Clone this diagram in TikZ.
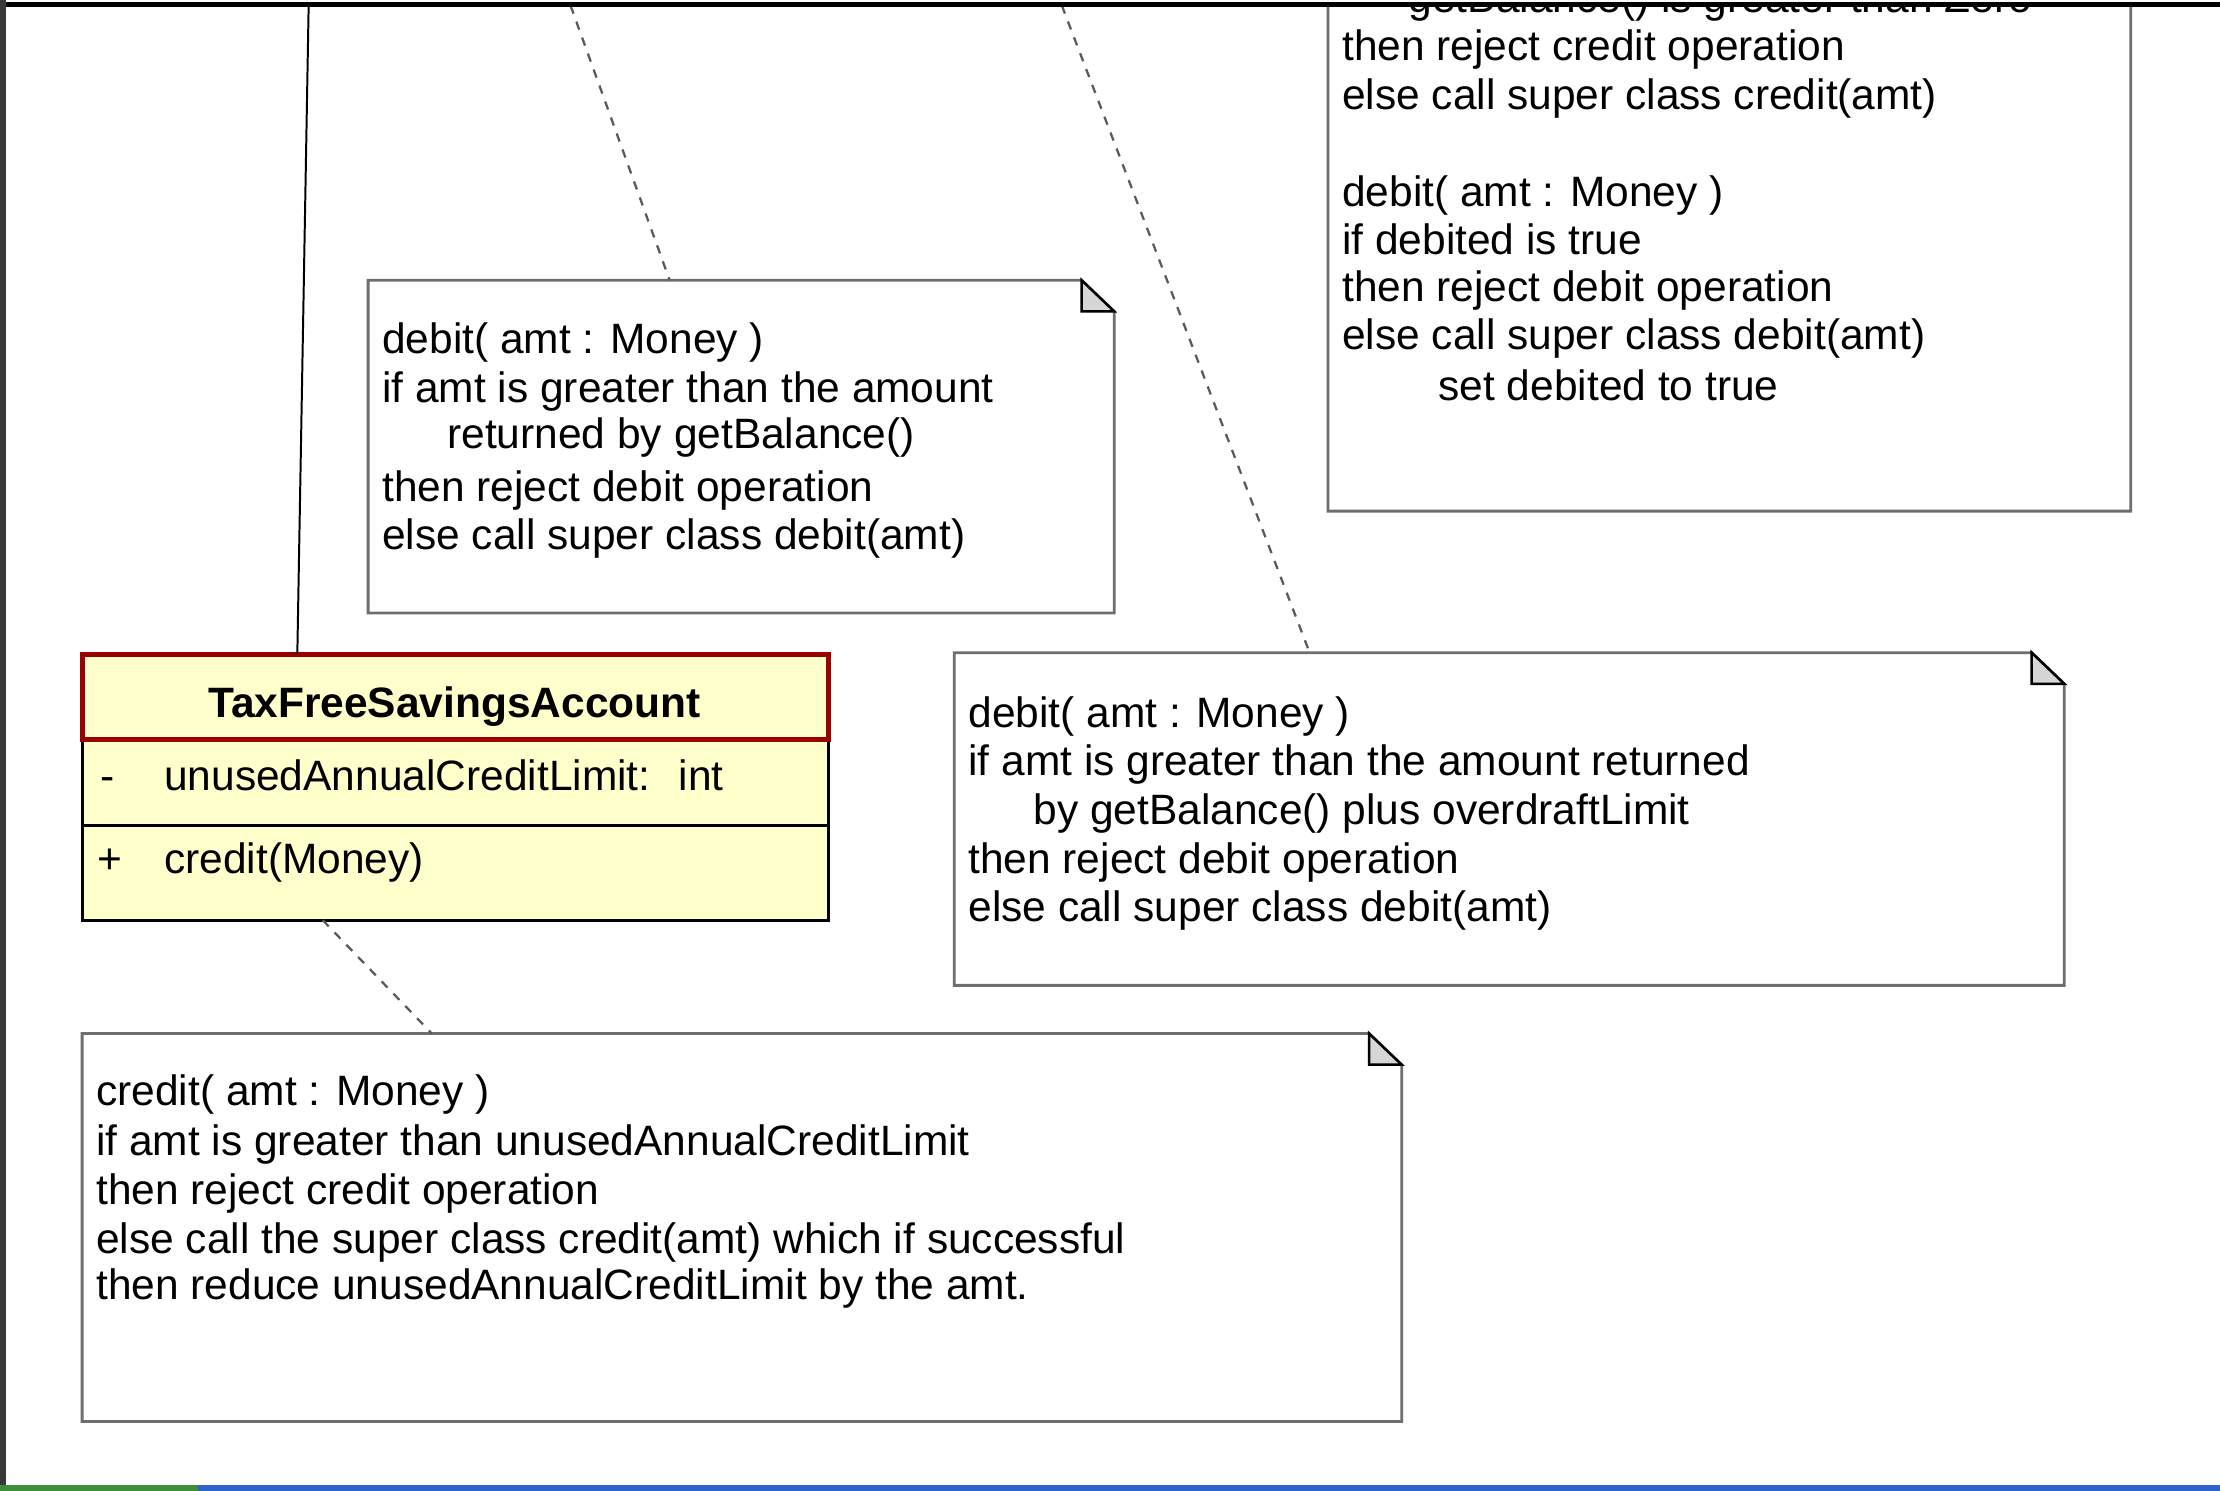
\documentclass[tikz,border=0pt]{standalone}
\usepackage{fontspec}
\setmainfont{Liberation Sans}
\usetikzlibrary{calc,fit}
\definecolor{classfill}{HTML}{FFFFCC}
\definecolor{classred}{HTML}{990000}
\definecolor{notegray}{HTML}{6E6E6E}
\definecolor{foldgray}{HTML}{D6D6D6}
\definecolor{dashgray}{HTML}{5A5A5A}
\definecolor{framegray}{HTML}{383838}
\definecolor{barblue}{HTML}{2D64CC}
\definecolor{bargreen}{HTML}{3E8E3A}
\tikzset{
  txt/.style={inner sep=0pt, outer sep=0pt, anchor=base west, font=\fontsize{15}{17}\selectfont},
  ttl/.style={inner sep=0pt, outer sep=0pt, anchor=base, font=\bfseries\fontsize{15}{17}\selectfont},
  notebox/.style={inner sep=0pt, outer sep=0pt},
  noteline/.style={draw=notegray, line width=1pt, fill=white, line join=miter},
  foldline/.style={draw=black, line width=0.9pt, fill=foldgray, line join=miter},
  anchorline/.style={draw=dashgray, line width=0.8pt, dash pattern=on 3pt off 3pt},
  genline/.style={draw=black, line width=0.7pt},
  classbody/.style={inner sep=0pt, outer sep=0pt, draw=black, line width=1pt, fill=classfill},
  classhead/.style={inner sep=0pt, outer sep=0pt, draw=classred, line width=1.8pt, fill=classfill},
}
\newcommand{\umlnote}[5]{%
  \node[notebox, fit={(#2,#3) (#4,#5)}] (#1) {};
  \path[noteline] (#1.north west) -- ([xshift=-11.5pt]#1.north east) -- ([yshift=-11pt]#1.north east) -- (#1.south east) -- (#1.south west) -- cycle;
  \path[foldline] ([xshift=-11.5pt]#1.north east) -- ([xshift=-11.5pt,yshift=-11pt]#1.north east) -- ([yshift=-11pt]#1.north east) -- cycle;
}
\begin{document}
\begin{tikzpicture}[x=0.5pt,y=-0.5pt]
\useasboundingbox (0,0) rectangle (1568,1053.1);
\fill[white] (0,0) rectangle (1568,1053.1);

\coordinate (genTop) at (218,4);
\coordinate (aTop1) at (403,4);
\coordinate (aTop2) at (750,4);

% class box
\node[classbody, fit={(58,462) (585,650)}] (cls) {};
\coordinate (divL) at (58,583);
\coordinate (divR) at (585,583);
\draw[black, line width=1pt] (divL) -- (divR);
\node[classhead, fit={(58,462) (585,522)}] (clsHead) {};
\node[ttl] (clsName) at (321,507) {TaxFreeSavingsAccount};
\node[txt] (attrVis) at (71,558) {-};
\node[txt] (attr) at (116,558) {unusedAnnualCreditLimit:\hspace{10pt}int};
\node[txt] (opVis) at (69,617) {+};
\node[txt] (op) at (116,617) {credit(Money)};

% note B
\umlnote{noteB}{260}{198}{787}{433}
\node[txt] (b1) at (270,250) {debit( amt : Money )};
\node[txt] (b2) at (270,284) {if amt is greater than the amount};
\node[txt] (b3) at (316,317) {returned by getBalance()};
\node[txt] (b4) at (270,354) {then reject debit operation};
\node[txt] (b5) at (270,388) {else call super class debit(amt)};

% note C
\umlnote{noteC}{674}{461}{1458}{696}
\node[txt] (c1) at (684,514) {debit( amt : Money )};
\node[txt] (c2) at (684,548) {if amt is greater than the amount returned};
\node[txt] (c3) at (730,582) {by getBalance() plus overdraftLimit};
\node[txt] (c4) at (684,617) {then reject debit operation};
\node[txt] (c5) at (684,651) {else call super class debit(amt)};

% note D
\umlnote{noteD}{58}{730}{990}{1004}
\node[txt] (d1) at (68,781) {credit( amt : Money )};
\node[txt] (d2) at (68,816) {if amt is greater than unusedAnnualCreditLimit};
\node[txt] (d3) at (68,851) {then reject credit operation};
\node[txt] (d4) at (68,885) {else call the super class credit(amt) which if successful};
\node[txt] (d5) at (68,918) {then reduce unusedAnnualCreditLimit by the amt.};

% note A (cut by the top edge)
\begin{scope}
\clip (0,5) rectangle (1568,1053.1);
\umlnote{noteA}{938}{-60}{1505}{361}
\node[txt] (a0) at (995,9) {getBalance() is greater than Zero};
\node[txt] (a1) at (948,43) {then reject credit operation};
\node[txt] (a2) at (948,77) {else call super class credit(amt)};
\node[txt] (a3) at (948,146) {debit( amt : Money )};
\node[txt] (a4) at (948,180) {if debited is true};
\node[txt] (a5) at (948,213) {then reject debit operation};
\node[txt] (a6) at (948,247) {else call super class debit(amt)};
\node[txt] (a7) at (1016,283) {set debited to true};
\end{scope}

% connectors
\draw[genline] (genTop) -- ($(cls.north west)+(152,0)$);
\draw[anchorline] (aTop1) -- ($(noteB.north west)+(213,0)$);
\draw[anchorline] (aTop2) -- ($(noteC.north west)+(251,0)$);
\draw[anchorline] ($(cls.south west)+(170,0)$) -- ($(noteD.north west)+(247,0)$);

% window frame
\fill[black] (0,1.5) rectangle (1568,5);
\fill[framegray] (0,0) rectangle (4,1053.1);
\fill[bargreen] (0,1049) rectangle (140,1053.1);
\fill[barblue] (140,1049) rectangle (1568,1053.1);
\end{tikzpicture}
\end{document}
